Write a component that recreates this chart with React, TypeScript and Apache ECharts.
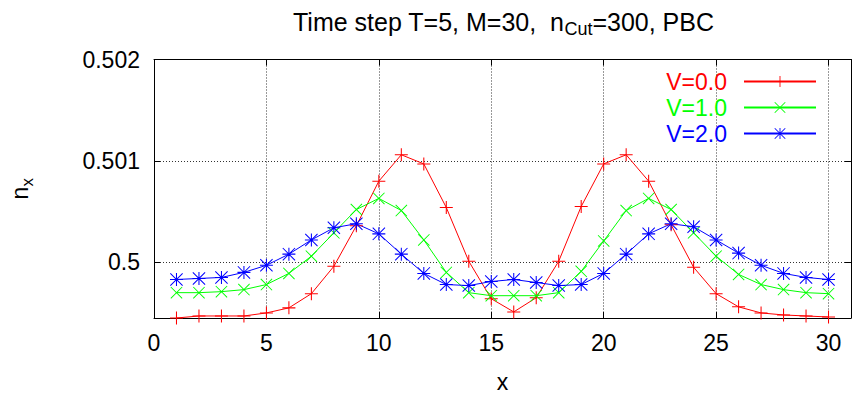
import React, { useEffect, useRef } from "react";
import * as echarts from "echarts";

const xValues = [1, 2, 3, 4, 5, 6, 7, 8, 9, 10, 11, 12, 13, 14, 15, 16, 17, 18, 19, 20, 21, 22, 23, 24, 25, 26, 27, 28, 29, 30];
const seriesNames = ["V=0.0", "V=1.0", "V=2.0"];
const v0 = [0.49945, 0.49947, 0.49947, 0.49947, 0.4995, 0.49955, 0.49969, 0.49996, 0.50036, 0.5008, 0.50106, 0.50097, 0.50054, 0.50001, 0.49964, 0.49951, 0.49965, 0.50001, 0.50055, 0.50097, 0.50106, 0.5008, 0.50037, 0.49995, 0.49969, 0.49956, 0.4995, 0.49948, 0.49947, 0.49946];
const v1 = [0.4997, 0.4997, 0.49971, 0.49973, 0.49978, 0.49989, 0.50006, 0.50029, 0.50052, 0.50063, 0.50051, 0.50022, 0.4999, 0.4997, 0.49967, 0.49967, 0.49967, 0.4997, 0.49991, 0.50021, 0.50051, 0.50063, 0.50052, 0.50029, 0.50006, 0.49988, 0.49978, 0.49973, 0.4997, 0.49969];
const v2 = [0.49983, 0.49984, 0.49985, 0.4999, 0.49997, 0.50008, 0.50022, 0.50034, 0.50038, 0.50028, 0.50008, 0.49989, 0.49978, 0.49977, 0.49981, 0.49983, 0.4998, 0.49977, 0.49978, 0.49989, 0.50008, 0.50028, 0.50038, 0.50035, 0.50022, 0.50009, 0.49997, 0.49989, 0.49985, 0.49983];
const colors = ["#ff0000", "#00ff00", "#0000ff"];

const FONT = "Liberation Sans";

const PLUS = "path://M9.2,0 L10.8,0 L10.8,20 L9.2,20 Z M0,9.2 L20,9.2 L20,10.8 L0,10.8 Z";
const CROSS = "path://M0,1.1 L1.1,0 L20,18.9 L18.9,20 Z M18.9,0 L20,1.1 L1.1,20 L0,18.9 Z";
const STAR = "path://M9.2,0 L10.8,0 L10.8,20 L9.2,20 Z M0,9.2 L20,9.2 L20,10.8 L0,10.8 Z M0,1.1 L1.1,0 L20,18.9 L18.9,20 Z M18.9,0 L20,1.1 L1.1,20 L0,18.9 Z";

export default function App() {
  const ref = useRef<HTMLDivElement>(null);
  useEffect(() => {
    if (!ref.current) return;
    const chart = echarts.init(ref.current, undefined, { renderer: "svg" });
    const yMin = 0.49945;
    const yMax = 0.502;
    const gridLine = { show: true, lineStyle: { color: "#333", type: [1, 2] as any, width: 1 } };
    const mk = (name: string, vals: number[], color: string, symbol: string, size: number) => ({
      name,
      type: "line",
      data: xValues.map((x, i) => [x, vals[i]]),
      symbol,
      symbolSize: size,
      lineStyle: { color, width: 1 },
      itemStyle: { color, borderWidth: 0 },
      emphasis: { disabled: true },
    });
    chart.setOption({
      animation: false,
      title: {
        text: "{a|Time step T=5, M=30,  n}{s|Cut}{a|=300, PBC}",
        left: 288,
        top: 4,
        textStyle: {
          fontWeight: "normal",
          rich: {
            a: { fontSize: 25, fontFamily: FONT, fontWeight: "normal", color: "#000", lineHeight: 26 },
            s: { fontSize: 18, fontFamily: FONT, fontWeight: "normal", color: "#000", lineHeight: 26, padding: [14, 0, 0, 0] },
          },
        },
      },
      legend: {
        orient: "vertical",
        right: 30,
        top: 65,
        align: "right",
        itemWidth: 72,
        itemHeight: 14,
        itemGap: 3,
        textStyle: { fontSize: 23, lineHeight: 21, fontFamily: FONT, padding: [0, 12, 0, 0] },
        data: seriesNames.map((n, i) => ({ name: n, textStyle: { color: colors[i] } })),
      },
      grid: { left: 154, right: 1, top: 59.5, bottom: 75, outerBoundsMode: "none" },
      xAxis: [
        {
          type: "value",
          min: 0,
          max: 31,
          interval: 5,
          name: "x",
          nameLocation: "middle",
          nameGap: 52,
          nameTextStyle: { fontSize: 23, fontFamily: FONT, color: "#000" },
          axisLine: { show: true, onZero: false, lineStyle: { color: "#000", width: 1 } },
          axisTick: { show: true, inside: true, length: 6, lineStyle: { color: "#000" } },
          axisLabel: { fontSize: 23, fontFamily: FONT, color: "#000", margin: 13, showMaxLabel: false },
          splitLine: gridLine,
        },
        {
          type: "value",
          position: "top",
          min: 0,
          max: 31,
          interval: 5,
          axisLine: { show: true, onZero: false, lineStyle: { color: "#000", width: 1 } },
          axisTick: { show: true, inside: true, length: 6, lineStyle: { color: "#000" } },
          axisLabel: { show: false },
          splitLine: { show: false },
        },
      ],
      yAxis: [
        {
          type: "value",
          min: yMin,
          max: yMax,
          minInterval: 0.001,
          maxInterval: 0.001,
          name: "{n|n}{s|x}",
          nameLocation: "middle",
          nameRotate: 90,
          nameGap: 121,
          nameTextStyle: {
            rich: {
              n: { fontSize: 23, fontFamily: FONT, color: "#000", lineHeight: 26 },
              s: { fontSize: 17, fontFamily: FONT, color: "#000", lineHeight: 26, padding: [14, 0, 0, 0] },
            },
          },
          axisLine: { show: true, onZero: false, lineStyle: { color: "#000", width: 1 } },
          axisTick: { show: true, inside: true, length: 6, lineStyle: { color: "#000" } },
          axisLabel: { fontSize: 23, fontFamily: FONT, color: "#000", margin: 14, showMinLabel: false },
          splitLine: gridLine,
        },
        {
          type: "value",
          position: "right",
          min: yMin,
          max: yMax,
          minInterval: 0.001,
          maxInterval: 0.001,
          axisLine: { show: true, onZero: false, lineStyle: { color: "#000", width: 1 } },
          axisTick: { show: true, inside: true, length: 6, lineStyle: { color: "#000" } },
          axisLabel: { show: false },
          splitLine: { show: false },
        },
      ],
      series: [
        mk(seriesNames[0], v0, colors[0], PLUS, 13),
        mk(seriesNames[1], v1, colors[1], CROSS, 12),
        mk(seriesNames[2], v2, colors[2], STAR, 13),
      ],
    });
    return () => chart.dispose();
  }, []);
  return (
    <div
      ref={ref}
      style={{ position: "fixed", left: 0, top: 0, width: 852, height: 393, background: "#fff" }}
    />
  );
}
